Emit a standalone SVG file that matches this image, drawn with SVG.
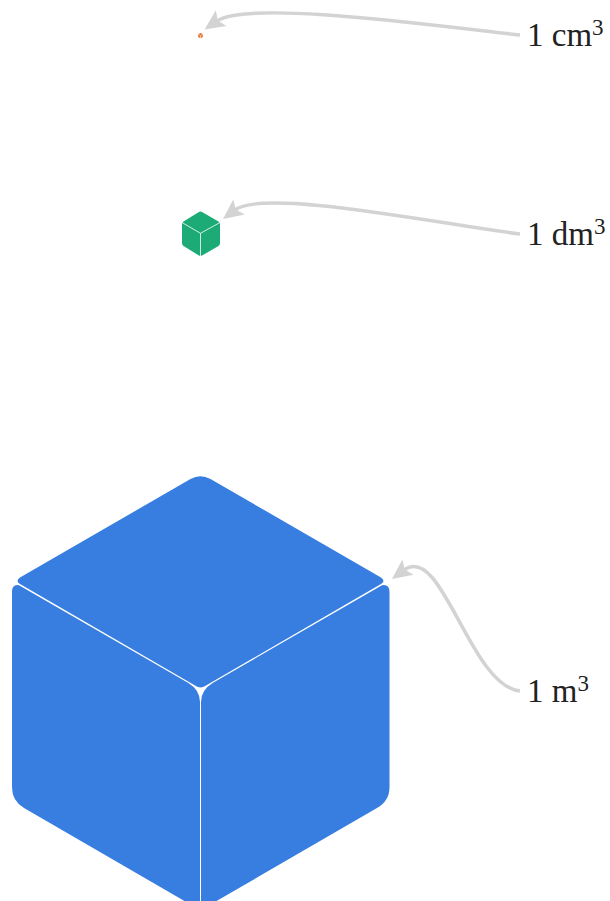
<svg xmlns="http://www.w3.org/2000/svg" width="610" height="901" viewBox="0 0 610 901">
<style>
.c{fill:none;stroke:#d3d3d3;stroke-width:3.5}
.t{font-family:"Liberation Serif","Times New Roman",serif;font-size:33px;fill:#222}
.s{font-size:23px}
.b{fill:#377ee0}.g{fill:#1cab76}.o{fill:#e9671f}
</style>
<defs><marker id="a" markerUnits="userSpaceOnUse" markerWidth="24" markerHeight="24" viewBox="0 0 24 24" refX="6" refY="12" orient="auto"><path d="M21,12 L1,2.500 L5,12 L1,21.500 Z" fill="#d3d3d3"/></marker></defs>
<g id="connectors">
<path class="c" marker-end="url(#a)" d="M520,35 C430,25 248,0 217,21"/>
<path class="c" marker-end="url(#a)" d="M520,234 C440,224 264,188 235,210"/>
<path class="c" marker-end="url(#a)" d="M520,691 C470,686 442,542 404,570"/>
</g>
<g id="cube-cm">
<path class="o" d="M200.500,33 L202.800,34.300 L202.800,36.900 L200.500,38.200 L198.200,36.900 L198.200,34.300 Z"/>
<path d="M198.400,34.400 L200.500,35.600 L202.600,34.400 M200.500,35.600 V38" fill="none" stroke="#fff" stroke-width=".6"/>
</g>
<g id="cube-dm">
<path class="g" d="M198.500,212.200 Q200.500,211 202.500,212.200 L218.500,221.500 Q220,222.500 220,224 V243 Q220,245 218.500,246 L202.500,255.200 Q200.500,256.300 198.500,255.200 L183.500,246 Q182,245 182,243 V224 Q182,222.500 183.500,221.500 Z"/>
<path d="M182,222.500 L200.500,233.300 L220,222.500 M200.500,233.300 V256" fill="none" stroke="#fff" stroke-width=".8"/>
</g>
<g id="cube-m">
<path class="b" d="M190.500,479 Q200.500,473.500 210.500,479 L381,577.500 Q386,581 381,584 L206,685.600 Q200.500,689.500 195,685.600 L20,584 Q15,581 20,577.500 Z"/>
<path class="b" d="M12,592 Q12,584 19,585.200 L188,682.800 Q200,690 200,702 V910 L24,808 Q12,801 12,787 Z"/>
<path class="b" d="M389.500,592 Q389.500,584 382,585.200 L213,682.800 Q201,690 201,702 V910 L377,808 Q389.500,801 389.500,787 Z"/>
</g>
<text id="label-cm" class="t" x="527" y="46">1 cm<tspan class="s" dy="-11">3</tspan></text>
<text id="label-dm" class="t" x="527" y="245">1 dm<tspan class="s" dy="-11">3</tspan></text>
<text id="label-m" class="t" x="527" y="702">1 m<tspan class="s" dy="-11">3</tspan></text>
</svg>
